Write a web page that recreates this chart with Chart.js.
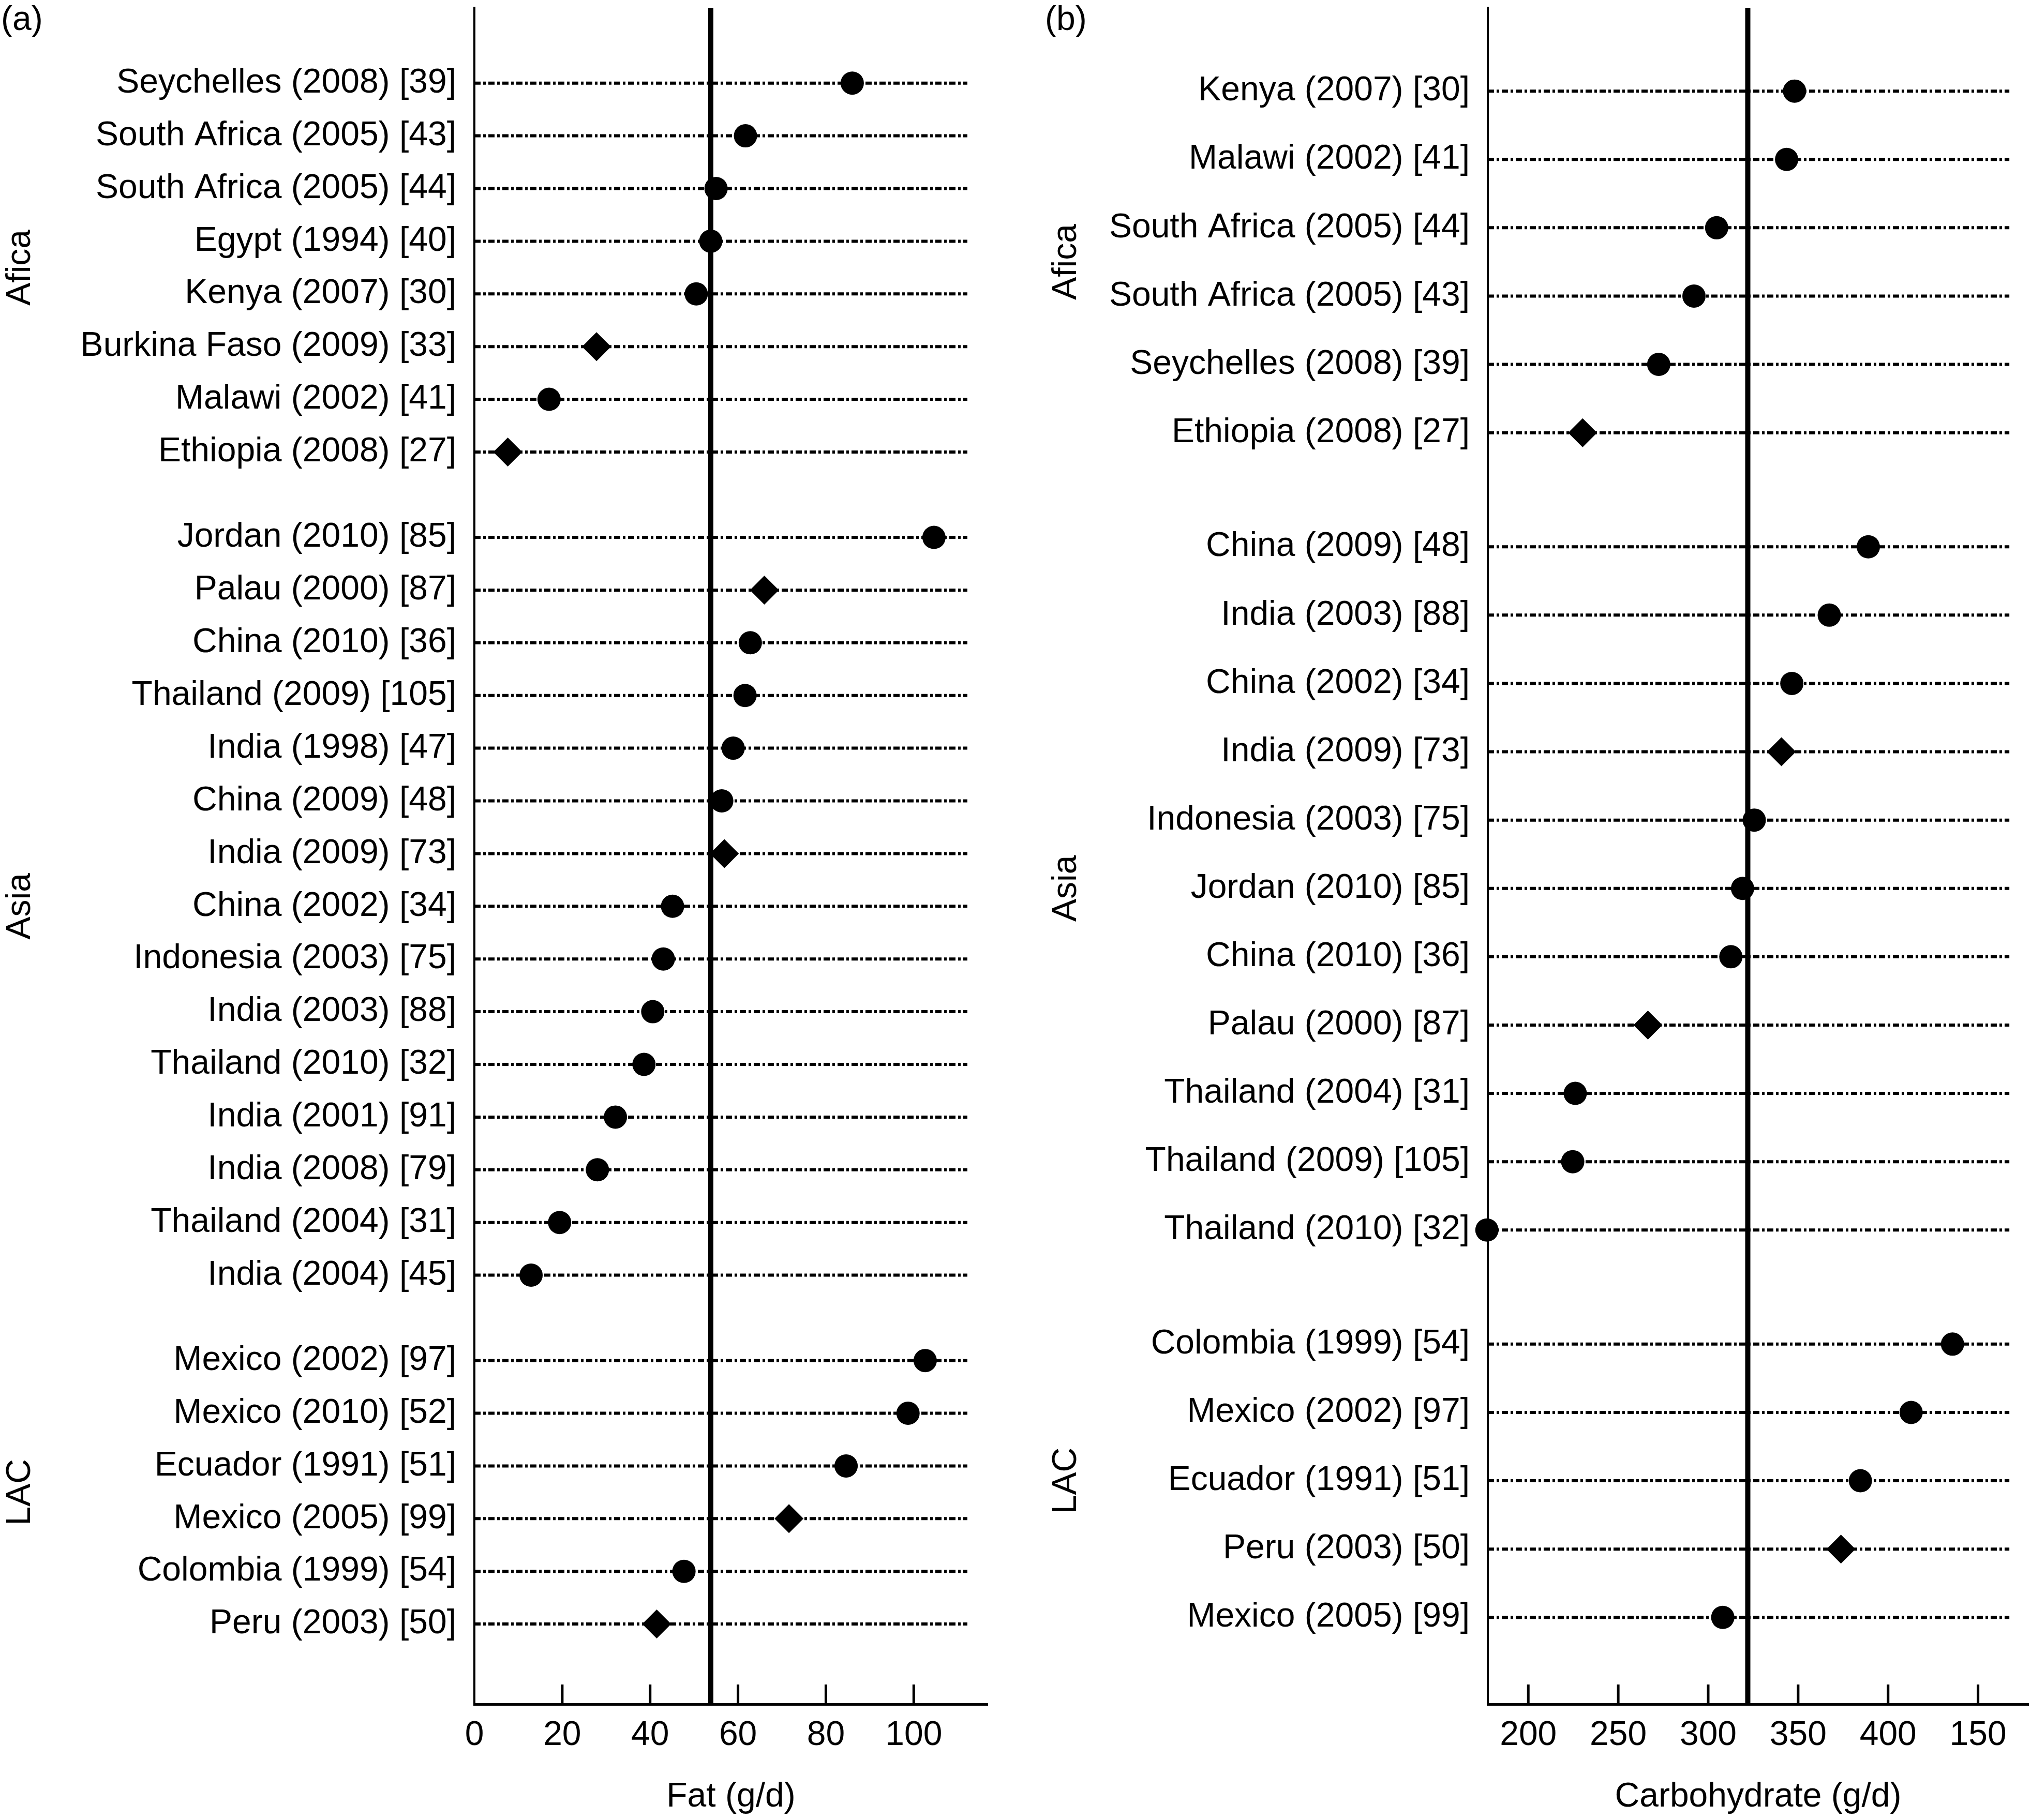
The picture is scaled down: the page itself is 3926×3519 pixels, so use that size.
<!DOCTYPE html>
<html>
<head>
<meta charset="utf-8">
<script src="https://cdn.jsdelivr.net/npm/chart.js@4.4.1/dist/chart.umd.min.js"></script>
<style>
  html, body { margin: 0; padding: 0; background: #fff; }
  #wrap { position: relative; width: 3926px; height: 3519px; background: #fff; }
  #fatChart { position: absolute; left: 0; top: 0; }
  #carbChart { position: absolute; left: 1963px; top: 0; }
</style>
</head>
<body>
<div id="wrap">
  <canvas id="fatChart" width="1963" height="3519"></canvas>
  <canvas id="carbChart" width="1963" height="3519"></canvas>
</div>
<script>
// (a) fat intake, rows listed top to bottom
const fatStudies = [
  'Seychelles (2008) [39]', 'South Africa (2005) [43]', 'South Africa (2005) [44]', 'Egypt (1994) [40]',
  'Kenya (2007) [30]', 'Burkina Faso (2009) [33]', 'Malawi (2002) [41]', 'Ethiopia (2008) [27]',
  'Jordan (2010) [85]', 'Palau (2000) [87]', 'China (2010) [36]', 'Thailand (2009) [105]',
  'India (1998) [47]', 'China (2009) [48]', 'India (2009) [73]', 'China (2002) [34]',
  'Indonesia (2003) [75]', 'India (2003) [88]', 'Thailand (2010) [32]', 'India (2001) [91]',
  'India (2008) [79]', 'Thailand (2004) [31]', 'India (2004) [45]',
  'Mexico (2002) [97]', 'Mexico (2010) [52]', 'Ecuador (1991) [51]', 'Mexico (2005) [99]',
  'Colombia (1999) [54]', 'Peru (2003) [50]'
];
const fatValues = [86.0, 61.7, 55.0, 53.8, 50.5, 27.8, 17.0, 7.6,
  104.6, 66.0, 62.8, 61.6, 58.9, 56.3, 56.9, 45.1, 43.0, 40.6, 38.6, 32.1, 28.0, 19.4, 12.9,
  102.6, 98.7, 84.6, 71.6, 47.7, 41.5];
const fatDiamond = [0, 0, 0, 0, 0, 1, 0, 1,
  0, 1, 0, 0, 0, 0, 1, 0, 0, 0, 0, 0, 0, 0, 0,
  0, 0, 0, 1, 0, 1];
const fatGroups = ['Afica', 'Asia', 'LAC'];
const fatGroupSizes = [8, 15, 6];
const fatReference = 53.8;
const fatTicks = [0, 20, 40, 60, 80, 100];
const fatTickLabels = ['0', '20', '40', '60', '80', '100'];

// (b) carbohydrate intake
const carbStudies = [
  'Kenya (2007) [30]', 'Malawi (2002) [41]', 'South Africa (2005) [44]', 'South Africa (2005) [43]',
  'Seychelles (2008) [39]', 'Ethiopia (2008) [27]',
  'China (2009) [48]', 'India (2003) [88]', 'China (2002) [34]', 'India (2009) [73]',
  'Indonesia (2003) [75]', 'Jordan (2010) [85]', 'China (2010) [36]', 'Palau (2000) [87]',
  'Thailand (2004) [31]', 'Thailand (2009) [105]', 'Thailand (2010) [32]',
  'Colombia (1999) [54]', 'Mexico (2002) [97]', 'Ecuador (1991) [51]', 'Peru (2003) [50]',
  'Mexico (2005) [99]'
];
const carbValues = [348.0, 343.6, 304.7, 292.1, 272.5, 230.2,
  389.0, 367.3, 346.5, 340.7, 325.6, 319.1, 312.6, 266.5, 226.1, 224.7, 177.0,
  435.8, 412.8, 384.6, 373.8, 308.1];
const carbDiamond = [0, 0, 0, 0, 0, 1,
  0, 0, 0, 1, 0, 0, 0, 1, 0, 0, 0,
  0, 0, 0, 1, 0];
const carbGroups = ['Afica', 'Asia', 'LAC'];
const carbGroupSizes = [6, 11, 5];
const carbReference = 322.0;
const carbTicks = [200, 250, 300, 350, 400, 450];
const carbTickLabels = ['200', '250', '300', '350', '400', '150'];

Chart.defaults.font.family = '"Liberation Sans", Arial, sans-serif';
Chart.defaults.font.size = 66;
Chart.defaults.color = '#000';

// row index plus a little extra space between regions
function rowPositions(sizes, gap) {
  const pos = [];
  let i = 0;
  sizes.forEach((n, gi) => {
    for (let k = 0; k < n; k++) { pos.push(i + gi * gap); i++; }
  });
  return pos;
}

const decorations = {
  id: 'decorations',
  afterDraw(chart, args, opts) {
    const ctx = chart.ctx;
    const xs = chart.scales.x, ys = chart.scales.y;
    const area = chart.chartArea;
    ctx.save();
    // tick marks point inwards
    ctx.strokeStyle = '#000';
    ctx.lineWidth = 5;
    opts.ticks.forEach(v => {
      const px = xs.getPixelForValue(v);
      if (px - area.left < 5) return;
      ctx.beginPath();
      ctx.moveTo(px, area.bottom);
      ctx.lineTo(px, area.bottom - 38);
      ctx.stroke();
    });
    ctx.fillStyle = '#000';
    ctx.font = '66px "Liberation Sans", Arial, sans-serif';
    ctx.textAlign = 'center';
    ctx.textBaseline = 'alphabetic';
    let start = 0;
    opts.groups.forEach((name, gi) => {
      const first = opts.pos[start];
      const last = opts.pos[start + opts.sizes[gi] - 1];
      start += opts.sizes[gi];
      const py = ys.getPixelForValue((first + last) / 2);
      ctx.save();
      ctx.translate(opts.groupX, py);
      ctx.rotate(-Math.PI / 2);
      ctx.fillText(name, 0, 0);
      ctx.restore();
    });
    ctx.textAlign = 'left';
    ctx.fillText(opts.letter, opts.letterX, 58);
    ctx.restore();
  }
};

function makePanel(id, p) {
  const pos = rowPositions(p.sizes, p.gap);
  const yMin = -p.topRows;
  const yMax = pos[pos.length - 1] + p.bottomRows;

  const guides = pos.map(y => ({
    data: [{ x: p.xMin, y: y }, { x: p.guideEnd, y: y }],
    showLine: true,
    borderColor: '#000',
    borderWidth: 6,
    borderDash: [12, 5, 5, 5],
    pointRadius: 0,
    order: 2
  }));

  return new Chart(document.getElementById(id), {
    type: 'scatter',
    data: {
      datasets: [
        {
          data: p.values.map((v, i) => ({ x: v, y: pos[i] })),
          backgroundColor: '#000',
          borderColor: '#000',
          pointBorderWidth: 0,
          pointStyle: p.diamond.map(d => d ? 'rectRot' : 'circle'),
          pointRadius: p.diamond.map(d => d ? 28 : 22.5),
          clip: false,
          order: 0
        },
        {
          data: [{ x: p.ref, y: yMin }, { x: p.ref, y: yMax }],
          showLine: true,
          borderColor: '#000',
          borderWidth: 10,
          pointRadius: 0,
          order: 1
        },
        ...guides
      ]
    },
    options: {
      responsive: false,
      animation: false,
      events: [],
      layout: { autoPadding: false, padding: { left: 0, right: p.padRight, top: 15, bottom: 0 } },
      plugins: {
        legend: { display: false },
        tooltip: { enabled: false },
        decorations: {
          ticks: p.ticks, groups: p.groups, sizes: p.sizes, pos: pos,
          groupX: p.groupX, letter: p.letter, letterX: p.letterX
        }
      },
      scales: {
        x: {
          type: 'linear',
          min: p.xMin,
          max: p.xMax,
          grid: { display: false, drawTicks: false },
          border: { display: true, color: '#000', width: 5 },
          ticks: {
            padding: 21,
            maxRotation: 0,
            autoSkip: false,
            callback: (v, i) => p.tickLabels[i]
          },
          title: { display: true, text: p.title, font: { size: 66 }, padding: { top: 0, bottom: 5 } },
          afterBuildTicks: s => { s.ticks = p.ticks.map(v => ({ value: v })); },
          afterFit: s => { s.height = 224; s.paddingLeft = 0; s.paddingRight = 0; }
        },
        y: {
          type: 'linear',
          reverse: true,
          min: yMin,
          max: yMax,
          grid: { display: false, drawTicks: false },
          border: { display: true, color: '#000', width: 4 },
          ticks: {
            padding: 35,
            autoSkip: false,
            callback: (v, i) => p.studies[i]
          },
          afterBuildTicks: s => { s.ticks = pos.map(v => ({ value: v })); },
          afterFit: s => { s.width = p.axisWidth; s.paddingTop = 0; s.paddingBottom = 0; }
        }
      }
    },
    plugins: [decorations]
  });
}

makePanel('fatChart', {
  studies: fatStudies, values: fatValues, diamond: fatDiamond,
  groups: fatGroups, sizes: fatGroupSizes, ref: fatReference,
  ticks: fatTicks, tickLabels: fatTickLabels, title: 'Fat (g/d)',
  xMin: 0, xMax: 116.8, guideEnd: 112.2,
  gap: 0.62, topRows: 1.43, bottomRows: 1.52,
  axisWidth: 917, padRight: 54, groupX: 58, letter: '(a)', letterX: 2
});

makePanel('carbChart', {
  studies: carbStudies, values: carbValues, diamond: carbDiamond,
  groups: carbGroups, sizes: carbGroupSizes, ref: carbReference,
  ticks: carbTicks, tickLabels: carbTickLabels, title: 'Carbohydrate (g/d)',
  xMin: 177.5, xMax: 478, guideEnd: 467.4,
  gap: 0.67, topRows: 1.22, bottomRows: 1.27,
  axisWidth: 913, padRight: 5, groupX: 117, letter: '(b)', letterX: 57
});
</script>
</body>
</html>
